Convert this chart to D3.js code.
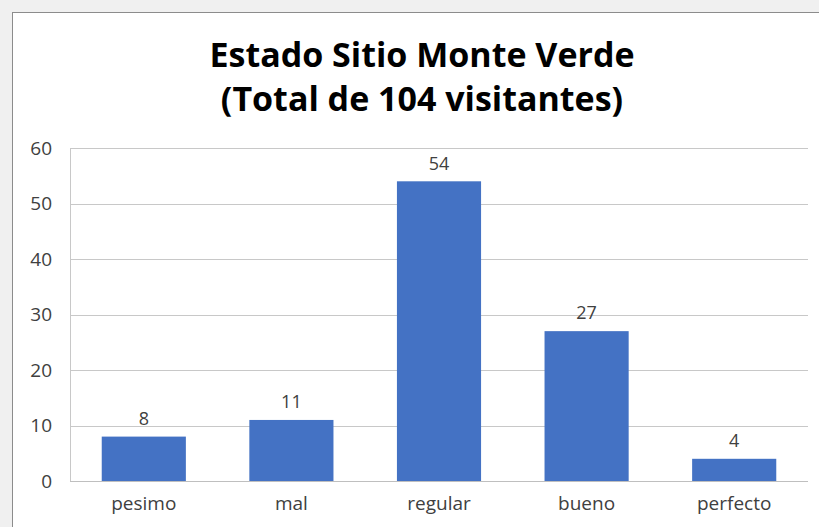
<!DOCTYPE html>
<html>
<head>
<meta charset="utf-8">
<script src="https://cdn.jsdelivr.net/npm/d3@7"></script>
<style>
  html, body { margin: 0; padding: 0; background: #f0f0f0; }
  svg { display: block; }
</style>
</head>
<body>
<svg id="chart" width="819" height="527"></svg>
<script>
// data
var categories = ['pesimo', 'mal', 'regular', 'bueno', 'perfecto'];
var visitors = [8, 11, 54, 27, 4];
var yTicks = [0, 10, 20, 30, 40, 50, 60];
var titleLines = ['Estado Sitio Monte Verde', '(Total de 104 visitantes)'];

var width = 819, height = 527;
var margin = {top: 148, right: 11, bottom: 46, left: 70};
var font = '"Open Sans", sans-serif';

var svg = d3.select('#chart');

// chart frame
svg.append('rect')
    .attr('x', 12.5).attr('y', 12.5)
    .attr('width', width).attr('height', height)
    .attr('fill', '#fff')
    .attr('stroke', '#8c8c8c');

var x = d3.scaleBand()
    .domain(categories)
    .range([margin.left, width - margin.right])
    .paddingInner(0.43)
    .paddingOuter(0.215);

var y = d3.scaleLinear()
    .domain([0, 60])
    .range([height - margin.bottom, margin.top]);

// gridlines
svg.append('g')
    .selectAll('line')
    .data(yTicks)
  .enter().append('line')
    .attr('x1', margin.left).attr('x2', width - margin.right)
    .attr('y1', function (d) { return Math.round(y(d)) + 0.5; })
    .attr('y2', function (d) { return Math.round(y(d)) + 0.5; })
    .attr('stroke', function (d) { return d === 0 ? '#bfbfbf' : '#c8c8c8'; })
    .attr('stroke-width', 1);

// left axis line
svg.append('line')
    .attr('x1', margin.left + 0.5).attr('x2', margin.left + 0.5)
    .attr('y1', y(60)).attr('y2', y(0))
    .attr('stroke', '#c8c8c8');

// y axis labels
var yAxis = d3.axisLeft(y).tickValues(yTicks).tickSize(0).tickPadding(18);
var gy = svg.append('g')
    .attr('transform', 'translate(' + margin.left + ',0)')
    .call(yAxis);
gy.select('.domain').remove();
gy.selectAll('text')
    .attr('font-family', font)
    .attr('font-size', 19)
    .attr('fill', '#404040');

// x axis labels
var xAxis = d3.axisBottom(x).tickSize(0).tickPadding(16);
var gx = svg.append('g')
    .attr('transform', 'translate(0,' + y(0) + ')')
    .call(xAxis);
gx.select('.domain').remove();
gx.selectAll('text')
    .attr('font-family', font)
    .attr('font-size', 19)
    .attr('fill', '#404040');

// bars
svg.append('g')
    .selectAll('rect')
    .data(visitors)
  .enter().append('rect')
    .attr('x', function (d, i) { return x(categories[i]); })
    .attr('y', function (d) { return y(d); })
    .attr('width', x.bandwidth())
    .attr('height', function (d) { return y(0) - y(d); })
    .attr('fill', '#4472c4');

// value labels
svg.append('g')
    .selectAll('text')
    .data(visitors)
  .enter().append('text')
    .attr('x', function (d, i) { return x(categories[i]) + x.bandwidth() / 2; })
    .attr('y', function (d) { return y(d) - 18; })
    .attr('dy', '0.35em')
    .attr('text-anchor', 'middle')
    .attr('font-family', font)
    .attr('font-size', 18)
    .attr('fill', '#404040')
    .text(function (d) { return d; });

// title
svg.append('g')
    .selectAll('text')
    .data(titleLines)
  .enter().append('text')
    .attr('x', 422)
    .attr('y', function (d, i) { return 67 + i * 44; })
    .attr('text-anchor', 'middle')
    .attr('font-family', font)
    .attr('font-weight', 'bold')
    .attr('font-size', 34)
    .attr('fill', '#000')
    .text(function (d) { return d; });
</script>
</body>
</html>
